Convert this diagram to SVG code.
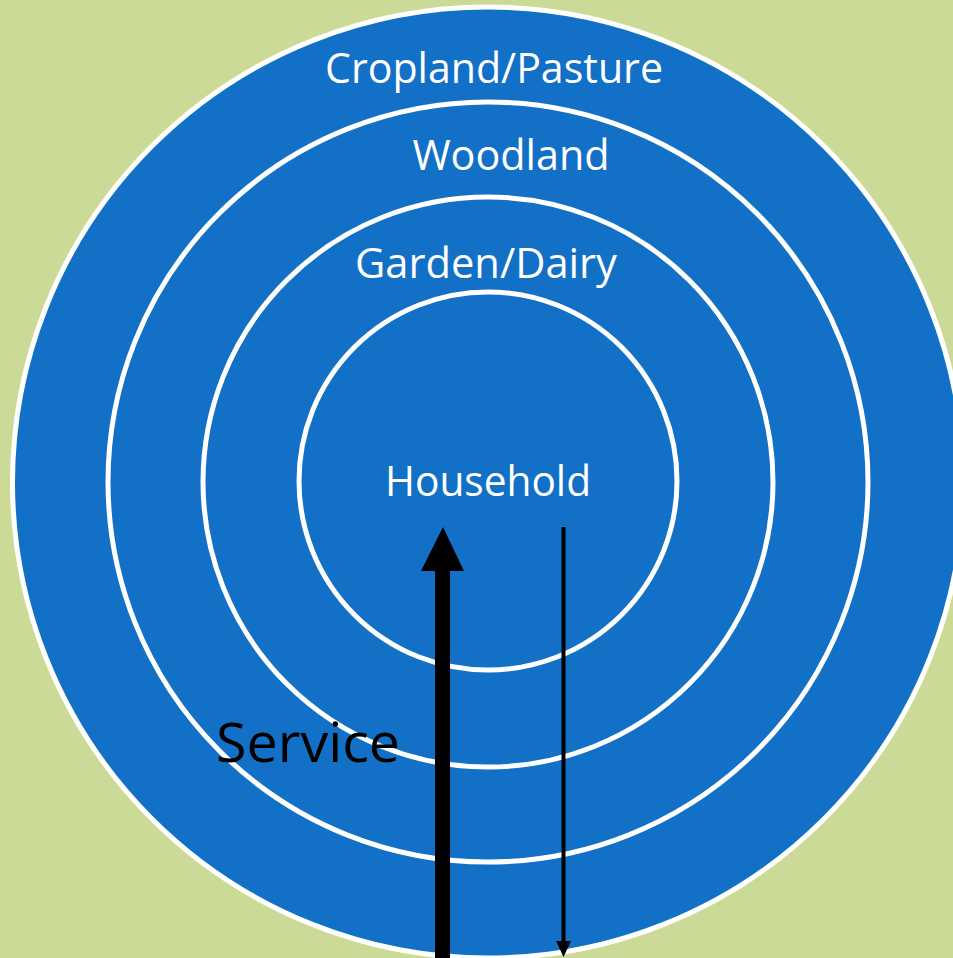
<svg xmlns="http://www.w3.org/2000/svg" width="953" height="958" viewBox="0 0 953 958">
<style>
.ring{fill:#1270C6;stroke:#FFFFFF;stroke-width:5}
.lbl{font-family:"Open Sans","Noto Sans","Liberation Sans",sans-serif;font-size:42px;fill:#FFFFFF;text-anchor:middle}
.svc{font-family:"Open Sans","Noto Sans","Liberation Sans",sans-serif;font-size:55px;fill:#000000}
</style>
<rect x="0" y="0" width="953" height="958" fill="#CBDB97"/>
<g id="cropland">
<circle class="ring" cx="488" cy="482.5" r="475.5"/>
<text class="lbl" x="494" y="83" textLength="338" lengthAdjust="spacingAndGlyphs">Cropland/Pasture</text>
</g>
<g id="woodland">
<circle class="ring" cx="488" cy="482" r="380"/>
<text class="lbl" x="511" y="170" textLength="197" lengthAdjust="spacingAndGlyphs">Woodland</text>
</g>
<g id="garden">
<circle class="ring" cx="488" cy="482" r="285"/>
<text class="lbl" x="486" y="278" textLength="262" lengthAdjust="spacingAndGlyphs">Garden/Dairy</text>
</g>
<g id="household">
<circle class="ring" cx="488" cy="481" r="189"/>
<text class="lbl" x="488" y="496" textLength="206" lengthAdjust="spacingAndGlyphs">Household</text>
</g>
<g id="connectors">
<polygon points="443,527 464,571 450,571 450,958 435,958 435,571 421,571" fill="#000000"/>
<line x1="563.5" y1="527" x2="563.5" y2="943" stroke="#000000" stroke-width="4"/>
<polygon points="556,941 571,941 563.5,957" fill="#000000"/>
</g>
<g id="service">
<text class="svc" x="216" y="762" textLength="184" lengthAdjust="spacingAndGlyphs">Service</text>
</g>
</svg>
